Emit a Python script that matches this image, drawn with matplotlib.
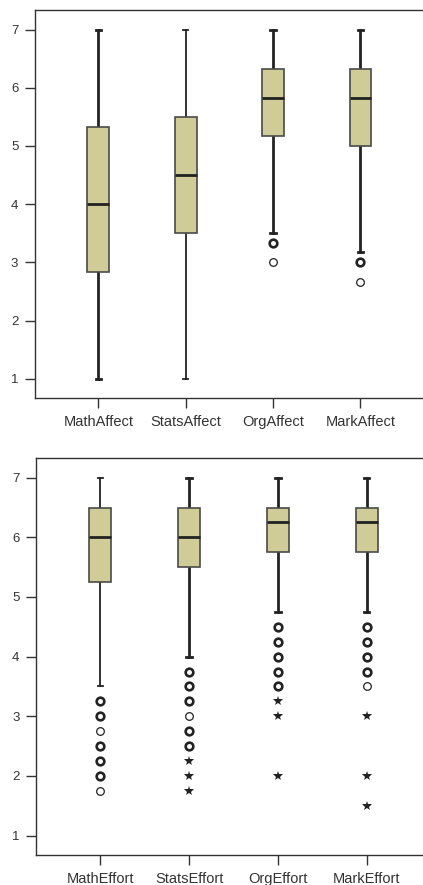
import matplotlib
matplotlib.use("Agg")
import matplotlib.pyplot as plt

plt.rcParams['font.family'] = ['Liberation Sans', 'DejaVu Sans']

# ---- Affect scales ----
affect_labels = ["MathAffect", "StatsAffect", "OrgAffect", "MarkAffect"]
affect_whislo = [1.0, 1.0, 3.5, 3.17]
affect_q1 = [2.83, 3.5, 5.17, 5.0]
affect_med = [4.0, 4.5, 5.83, 5.83]
affect_q3 = [5.33, 5.5, 6.33, 6.33]
affect_whishi = [7.0, 7.0, 7.0, 7.0]
# (value, number of cases) for outliers and extremes
affect_outliers = [[], [], [(3.33, 2), (3.0, 1)], [(3.0, 2), (2.67, 1)]]
affect_extremes = [[], [], [], []]

# ---- Effort scales ----
effort_labels = ["MathEffort", "StatsEffort", "OrgEffort", "MarkEffort"]
effort_whislo = [3.5, 4.0, 4.75, 4.75]
effort_q1 = [5.25, 5.5, 5.75, 5.75]
effort_med = [6.0, 6.0, 6.25, 6.25]
effort_q3 = [6.5, 6.5, 6.5, 6.5]
effort_whishi = [7.0, 7.0, 7.0, 7.0]
effort_outliers = [
    [(3.25, 2), (3.0, 2), (2.75, 1), (2.5, 2), (2.25, 2), (2.0, 2), (1.75, 1)],
    [(3.75, 2), (3.5, 2), (3.25, 2), (3.0, 1), (2.75, 2), (2.5, 2)],
    [(4.5, 2), (4.25, 2), (4.0, 2), (3.75, 2), (3.5, 2)],
    [(4.5, 2), (4.25, 2), (4.0, 2), (3.75, 2), (3.5, 1)],
]
effort_extremes = [[], [2.25, 2.0, 1.75], [3.25, 3.0, 2.0], [3.0, 2.0, 1.5]]

BOX_FILL = "#cfcc97"
EDGE = "#4a4a48"
INK = "#222222"
TEXT = "#333333"


def draw_panel(ax, labels, whislo, q1, med, q3, whishi, outliers, extremes,
               whisker_widths):
    stats = []
    for i, lab in enumerate(labels):
        stats.append(dict(label=lab, whislo=whislo[i], q1=q1[i], med=med[i],
                          q3=q3[i], whishi=whishi[i], fliers=[]))
    positions = list(range(1, len(labels) + 1))
    art = ax.bxp(stats, positions=positions, widths=0.25, patch_artist=True,
                 showfliers=False, capwidths=0.06,
                 boxprops=dict(facecolor=BOX_FILL, edgecolor=EDGE, linewidth=1.2),
                 medianprops=dict(color=INK, linewidth=2.0),
                 whiskerprops=dict(color=INK, linewidth=1.5),
                 capprops=dict(color=INK, linewidth=1.5))
    for i in range(len(labels)):
        for k in (2 * i, 2 * i + 1):
            art['whiskers'][k].set_linewidth(whisker_widths[i])
            art['whiskers'][k].set_zorder(1)
            art['caps'][k].set_linewidth(whisker_widths[i])
    for i, pos in enumerate(positions):
        for val, n in outliers[i]:
            ax.plot([pos], [val], marker='o', ms=5.5, mfc='white',
                    mec=INK, mew=1.9 if n > 1 else 0.9, ls='none', zorder=3)
        for val in extremes[i]:
            ax.plot([pos], [val], marker='*', ms=7.5, color=INK, mew=0,
                    ls='none', zorder=3)

    ax.set_xlim(0.276, 4.724)
    ax.set_ylim(0.67, 7.335)
    ax.set_yticks([1, 2, 3, 4, 5, 6, 7])
    ax.set_xticks(positions)
    ax.set_xticklabels(labels)
    for s in ax.spines.values():
        s.set_color(TEXT)
        s.set_linewidth(1.0)
    ax.tick_params(axis='both', colors=TEXT, length=7, width=1.0,
                   direction='out')
    ax.tick_params(axis='y', labelsize=9.5, pad=5)
    ax.tick_params(axis='x', labelsize=10.5, pad=5)
    ax.set_facecolor('white')


fig = plt.figure(figsize=(4.23, 8.85), dpi=100)
fig.patch.set_facecolor('white')

ax1 = fig.add_axes([0.0827, 0.5503, 0.919, 0.4384])
draw_panel(ax1, affect_labels, affect_whislo, affect_q1, affect_med, affect_q3,
           affect_whishi, affect_outliers, affect_extremes,
           [2.0, 1.3, 2.0, 2.0])

ax2 = fig.add_axes([0.0851, 0.0336, 0.934, 0.4492])
draw_panel(ax2, effort_labels, effort_whislo, effort_q1, effort_med, effort_q3,
           effort_whishi, effort_outliers, effort_extremes,
           [1.3, 2.0, 2.0, 2.0])

fig.savefig("out.png", dpi=100, facecolor='white')
